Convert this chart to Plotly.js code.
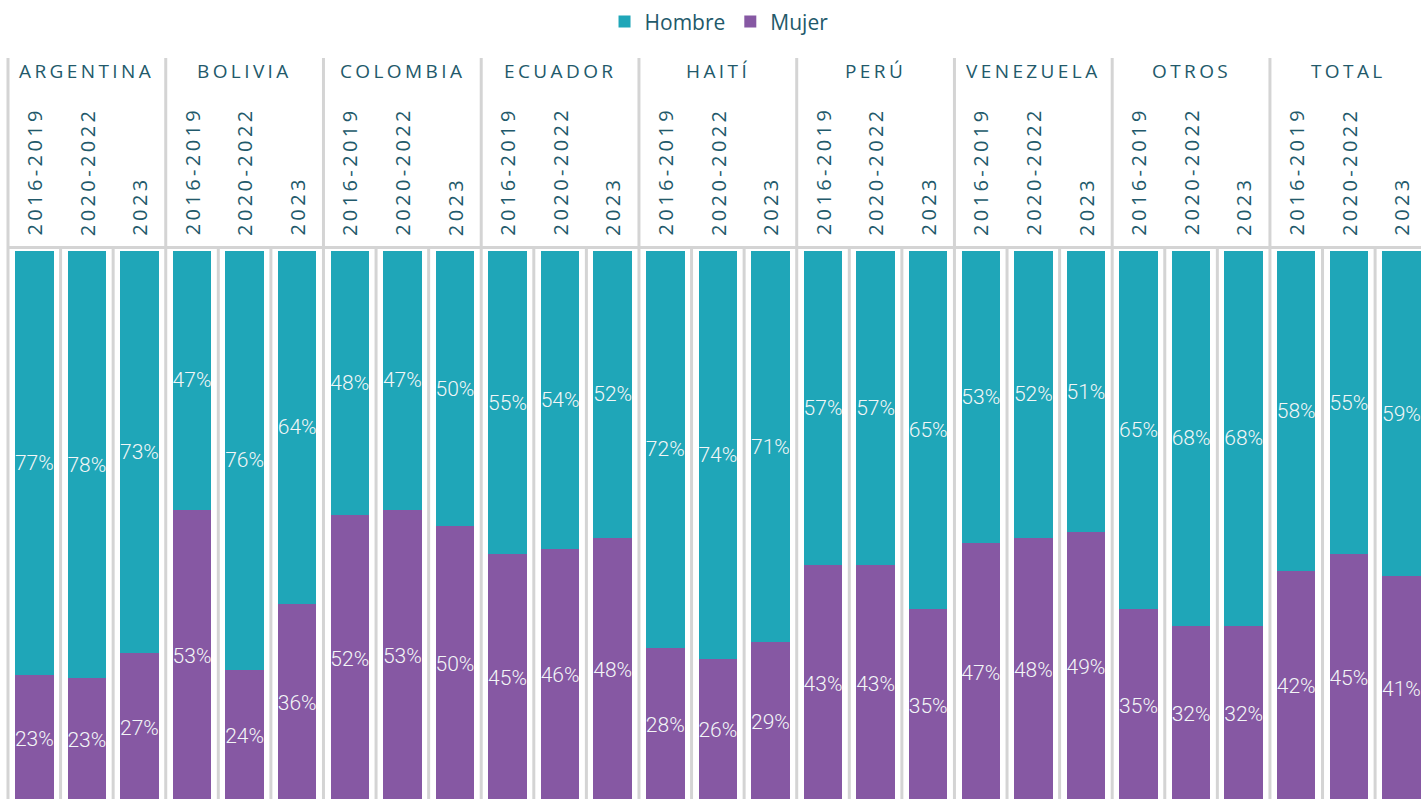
<!DOCTYPE html>
<html><head><meta charset="utf-8">
<script src="https://cdn.plot.ly/plotly-3.0.1.min.js"></script>
<style>html,body{margin:0;padding:0;background:#fff;}#chart{width:1421px;height:799px;}</style>
</head><body><div id="chart"></div>
<script>
// ---- data ----
const countries = ['ARGENTINA','BOLIVIA','COLOMBIA','ECUADOR','HAITÍ','PERÚ','VENEZUELA','OTROS','TOTAL'];
const periods = ['2016-2019','2020-2022','2023'];
const hombre = [77,77.5,73, 47,76,64, 48,47,50, 55,54,52, 72,74,71, 57,57,65, 53,52,51, 65,68,68, 58,55,59];
const mujer  = [23,22.5,27, 53,24,36, 52,53,50, 45,46,48, 28,26,29, 43,43,35, 47,48,49, 35,32,32, 42,45,41];

// ---- style ----
const TEAL = '#1fa6b8', PURPLE = '#8658a3', INK = '#22596a', GRID = '#d4d4d4';
const FONT = 'Open Sans, DejaVu Sans, sans-serif';

const xs = [];
const xPeriod = [];
countries.forEach((c, g) => periods.forEach((p, k) => { xs.push(g * periods.length + k); xPeriod.push(p); }));

const labelFont = {family: 'Roboto, Open Sans, sans-serif', size: 21, color: '#f3f6f7', weight: 300};
const common = {
  type: 'bar', x: xs, textposition: 'inside', insidetextanchor: 'middle',
  textangle: 0, constraintext: 'none', texttemplate: '%{value:.0f}%',
  textfont: labelFont, insidetextfont: labelFont, hoverinfo: 'skip'
};
const traces = [
  Object.assign({}, common, {name: 'Mujer', y: mujer, marker: {color: PURPLE}, legendrank: 2}),
  Object.assign({}, common, {name: 'Hombre', y: hombre, marker: {color: TEAL}, legendrank: 1})
];

const Y_TOP = 135.03, Y_BOT = 0.54;
const annotations = [];
countries.forEach((c, g) => {
  annotations.push({
    x: g * periods.length + (periods.length - 1) / 2, y: 132.67, xref: 'x', yref: 'y',
    text: '<span style="letter-spacing:3.4px">' + c + '</span>', showarrow: false,
    xanchor: 'center', yanchor: 'middle', font: {family: FONT, size: 19, color: INK}
  });
});
xs.forEach((x, i) => {
  annotations.push({
    x: x, y: 102.4, xref: 'x', yref: 'y', textangle: -90,
    text: '<span style="letter-spacing:3.4px">' + xPeriod[i] + '</span>', showarrow: false,
    xanchor: 'center', yanchor: 'bottom', font: {family: FONT, size: 20, color: INK}
  });
});

const shapes = [];
for (let i = 0; i <= xs.length; i++) {
  const isGroup = i % periods.length === 0;
  shapes.push({type: 'line', xref: 'x', yref: 'y', x0: i - 0.5, x1: i - 0.5,
    y0: 0, y1: isGroup ? Y_TOP : 100.64, line: {color: GRID, width: 3}, layer: 'above'});
}
shapes.push({type: 'line', xref: 'x', yref: 'y', x0: -0.5, x1: xs.length, y0: 100.64, y1: 100.64,
  line: {color: GRID, width: 3}, layer: 'above'});

const layout = {
  width: 1421, height: 799,
  margin: {l: 0, r: 0, t: 58, b: 0, pad: 0},
  paper_bgcolor: '#ffffff', plot_bgcolor: '#ffffff',
  barmode: 'stack', bargap: 0.268,
  font: {family: FONT, color: INK},
  xaxis: {range: [-0.6521, 26.373], showgrid: false, zeroline: false, showticklabels: false, ticks: '', showline: false, fixedrange: true},
  yaxis: {range: [Y_BOT, Y_TOP], showgrid: false, zeroline: false, showticklabels: false, ticks: '', showline: false, fixedrange: true},
  showlegend: true,
  legend: {orientation: 'h', traceorder: 'normal', x: 0.506, xanchor: 'center', yref: 'container', y: 0.9725, yanchor: 'middle',
    font: {family: FONT, size: 21, color: INK}, itemwidth: 30, bgcolor: 'rgba(0,0,0,0)'},
  annotations: annotations,
  shapes: shapes
};

Plotly.newPlot('chart', traces, layout, {displayModeBar: false, staticPlot: true});
</script>
</body></html>
